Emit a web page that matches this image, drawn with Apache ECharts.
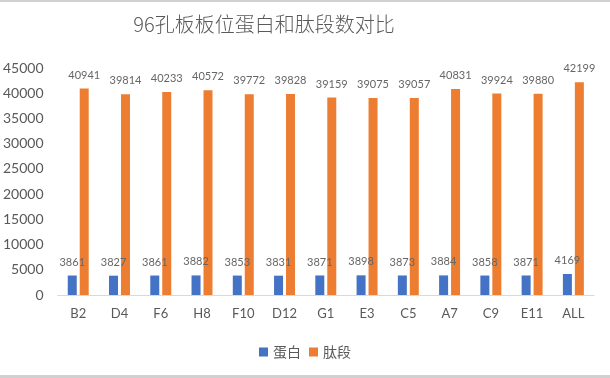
<!DOCTYPE html>
<html><head><meta charset="utf-8">
<script src="https://cdn.jsdelivr.net/npm/echarts@6/dist/echarts.min.js"></script>
<style>html,body{margin:0;padding:0;background:#fff}#c{width:610px;height:378px}</style>
</head><body><div id="c"></div>
<script>
var categories = ['B2','D4','F6','H8','F10','D12','G1','E3','C5','A7','C9','E11','ALL'];
var proteins = [3861,3827,3861,3882,3853,3831,3871,3898,3873,3884,3858,3871,4169];
var peptides = [40941,39814,40233,40572,39772,39828,39159,39075,39057,40831,39924,39880,42199];
var yTicks = [0,5000,10000,15000,20000,25000,30000,35000,40000,45000];

var chart = echarts.init(document.getElementById('c'));
var lbl = {show:true, position:'top', distance:8, color:'#666', fontSize:11, fontFamily:'Lato'};
chart.setOption({
  backgroundColor:'#fff',
  title:{text:'96孔板板位蛋白和肽段数对比', left:259, textAlign:'center', top:9,
    textStyle:{fontSize:20, fontWeight:300, color:'#595959', fontFamily:'Noto Sans CJK SC'}},
  legend:{bottom:14, left:'center', itemWidth:9, itemHeight:9, itemGap:8, icon:'rect',
    textStyle:{fontSize:14, color:'#595959', fontFamily:'Noto Sans CJK SC'}},
  grid:{left:57, right:16, top:68, bottom:83},
  xAxis:{type:'category', data:categories,
    axisLine:{lineStyle:{color:'#d9d9d9'}}, axisTick:{show:false},
    axisLabel:{fontSize:13, color:'#595959', margin:12, fontFamily:'Lato'}},
  yAxis:{type:'value', min:yTicks[0], max:yTicks[yTicks.length-1], interval:5000,
    splitLine:{show:false}, axisLine:{show:false}, axisTick:{show:false},
    axisLabel:{fontSize:14, color:'#595959', margin:14, fontFamily:'Lato', formatter:function(v){return String(v);}}},
  series:[
    {name:'蛋白', type:'bar', data:proteins, barWidth:9, barGap:'33%', itemStyle:{color:'#4472C4'}, label:lbl},
    {name:'肽段', type:'bar', data:peptides, barWidth:9, itemStyle:{color:'#ED7D31'}, label:lbl}
  ],
  graphic:[
    {type:'rect', shape:{x:0,y:0,width:610,height:2}, style:{fill:'#d0d0d0'}},
    {type:'rect', shape:{x:0,y:375,width:610,height:3}, style:{fill:'#d0d0d0'}}
  ]
});
</script></body></html>
